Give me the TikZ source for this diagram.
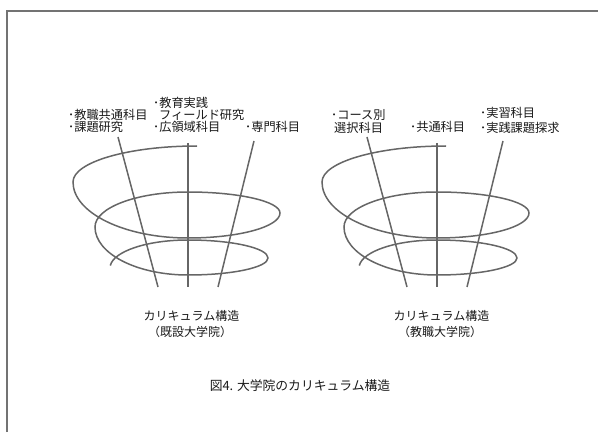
\documentclass[tikz,border=0pt]{standalone}
\usepackage{fontspec}
\setmainfont{Noto Sans CJK JP}

\begin{document}
\begin{tikzpicture}[x=1pt,y=1pt]
		\tikzset{subj/.style = {anchor=base west, inner sep=0pt, text=black!90, font=\fontsize{12.2}{14}\selectfont}}
		\tikzset{capt/.style = {anchor=base, inner sep=0pt, text=black!90, font=\fontsize{12}{14}\selectfont}}
		\tikzset{stem/.style = {draw=black!60, line width=1.5pt}}
		\tikzset{coil/.style = {draw=black!60, line width=1.5pt}}
		
		\useasboundingbox (0,0) rectangle (598,432);
		\draw[black!55, line width=1.2pt] (7,0) -- (7,421) -- (598,421);
		
		% spiral and the three stems, same for both sides
		\foreach \dx/\p in {0/a, 249/b}{
			\begin{scope}[xshift=\dx]
				\coordinate (\p-lt) at (118,295);
				\coordinate (\p-lb) at (158,145);
				\coordinate (\p-mt) at (188,289);
				\coordinate (\p-mb) at (188,145);
				\coordinate (\p-rt) at (254,291);
				\coordinate (\p-rb) at (218,145);
				
				\draw[coil] (197,286)
					arc[start angle=90,  end angle=180, x radius=124, y radius=36]
					arc[start angle=180, end angle=270, x radius=115, y radius=56]
					arc[start angle=270, end angle=360, x radius=92,  y radius=25]
					arc[start angle=0,   end angle=90,  x radius=92,  y radius=21]
					arc[start angle=90,  end angle=180, x radius=93,  y radius=35]
					arc[start angle=180, end angle=270, x radius=93,  y radius=48]
					arc[start angle=270, end angle=360, x radius=80,  y radius=17]
					arc[start angle=0,   end angle=90,  x radius=80,  y radius=18]
					arc[start angle=90,  end angle=175, x radius=78,  y radius=28];
				
				\draw[stem] (\p-lt) -- (\p-lb);
				\draw[stem] (\p-mt) -- (\p-mb);
				\draw[stem] (\p-rt) -- (\p-rb);
			\end{scope}
		}
		
		% left side
		\node[subj] (a1) at ( 68, 312.5) {･教職共通科目};
		\node[subj] (a2) at ( 68, 300.5) {･課題研究};
		\node[subj] (a3) at (153, 324.5) {･教育実践};
		\node[subj] (a4) at (159, 312.5) {フィールド研究};
		\node[subj] (a5) at (153, 300.5) {･広領域科目};
		\node[subj] (a6) at (245, 300.5) {･専門科目};
		
		\node[capt] (acap1) at (191.5, 111.5) {カリキュラム構造};
		\node[capt] (acap2) at (190,    95.5) {（既設大学院）};
		
		% right side
		\node[subj] (b1) at (331, 312.5) {･コース別};
		\node[subj] (b2) at (334, 299.5) {選択科目};
		\node[subj] (b3) at (410, 300.5) {･共通科目};
		\node[subj] (b4) at (480, 314.5) {･実習科目};
		\node[subj] (b5) at (480, 299.5) {･実践課題探求};
		
		\node[capt] (bcap1) at (441.5, 111.5) {カリキュラム構造};
		\node[capt] (bcap2) at (440,    95.5) {（教職大学院）};
		
		\node[capt, font=\fontsize{12.8}{15}\selectfont] (title) at (300, 42) {図4. 大学院のカリキュラム構造};
\end{tikzpicture}
\end{document}
